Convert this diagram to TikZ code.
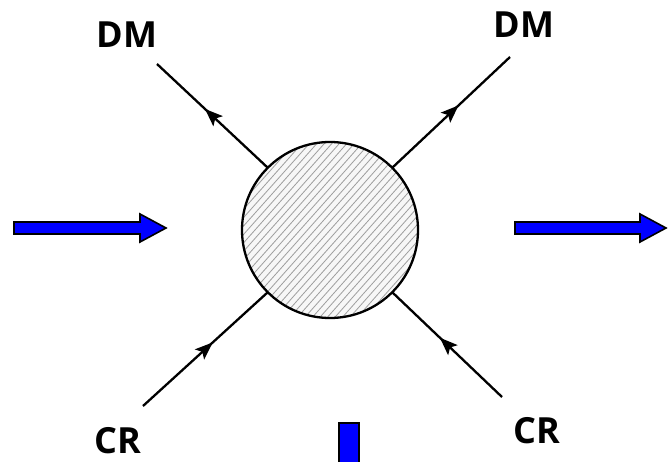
\documentclass[tikz,border=0pt]{standalone}
\usepackage{fontspec}
\newfontfamily\lblfont{Open Sans}[BoldFont={* Bold}]
\usetikzlibrary{decorations.markings}
\begin{document}
\begin{tikzpicture}[x=1pt,y=-1pt,
  leg/.style={line width=2.3pt,postaction={decorate},
    decoration={markings,mark=at position 0.5 with {\fill (-8,-7) -- (10,0) -- (-8,7) -- (-4,0) -- cycle;}}},
  lbl/.style={font=\lblfont\fontsize{36}{36}\selectfont\bfseries,inner sep=0pt},
  bluearrow/.style={fill=blue,draw=black,line width=1.6pt},
  blob/.style={draw=black,line width=2.3pt}]
\useasboundingbox (0,0) rectangle (671,462);
\fill[white] (0,0) rectangle (671,462);
% blob
\node[circle,minimum size=176pt,inner sep=0pt] (c) at (330,230) {};
\begin{scope}
  \clip (330,230) circle (88);
  \fill[gray!6] (330,230) circle (88);
  \foreach \k in {-30,...,30}{
    \draw[gray!75,line width=0.8pt] (330+\k*7.5-120,230+135) -- (330+\k*7.5+120,230-135);
  }
\end{scope}
\draw[blob] (c.center) circle (88);
% legs
\coordinate (ul) at (157,64);
\coordinate (ur) at (510,57);
\coordinate (ll) at (143,406);
\coordinate (lr) at (502,397);
\draw[leg] (c.135) -- (ul);
\draw[leg] (c.45) -- (ur);
\draw[leg] (ll) -- (c.225);
\draw[leg] (lr) -- (c.-45);
% labels
\node[lbl] (dm1) at (127,35) {DM};
\node[lbl] (dm2) at (524,25) {DM};
\node[lbl] (cr1) at (118,441) {CR};
\node[lbl] (cr2) at (537,431) {CR};
% blue arrows
\draw[bluearrow] (14,222) -- (140,222) -- (140,214) -- (166,228) -- (140,242) -- (140,234) -- (14,234) -- cycle;
\draw[bluearrow] (515,222) -- (640,222) -- (640,214) -- (666,228) -- (640,242) -- (640,234) -- (515,234) -- cycle;
\draw[bluearrow] (339,423) rectangle (359,466);
\end{tikzpicture}
\end{document}
